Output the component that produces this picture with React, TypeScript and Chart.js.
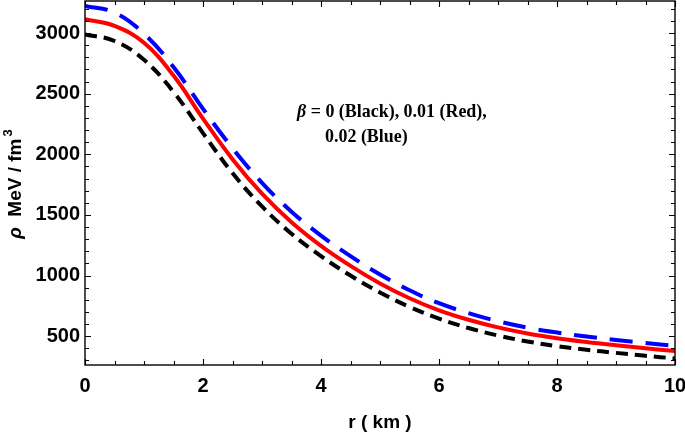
import React, { useEffect, useRef } from "react";
import { Chart, registerables } from "chart.js";

Chart.register(...registerables);

// radial coordinate r (km)
const radius = [0, 0.5, 1, 1.5, 2, 2.5, 3, 3.5, 4, 4.5, 5, 5.5, 6, 6.5, 7, 7.5, 8, 8.5, 9, 9.5, 10];
// density rho (MeV/fm^3) for beta = 0 (black)
const rhoBeta0 = [2990, 2935, 2780, 2515, 2175, 1845, 1570, 1345, 1160, 1000, 860, 742, 645, 567, 505, 456, 418, 388, 362, 338, 316];
// beta = 0.01 (red)
const rhoBeta001 = [3115, 3060, 2920, 2650, 2295, 1960, 1675, 1440, 1245, 1080, 935, 813, 713, 635, 572, 522, 483, 452, 425, 400, 377];
// beta = 0.02 (blue)
const rhoBeta002 = [3225, 3170, 2995, 2720, 2375, 2050, 1765, 1527, 1330, 1160, 1008, 879, 772, 690, 623, 570, 530, 497, 468, 443, 420];

const xTickValues = [0, 2, 4, 6, 8, 10];
const yTickValues = [500, 1000, 1500, 2000, 2500, 3000];
const xMinorStep = 0.5;
const yMinorStep = 100;

const xTitle = "r ( km )";
const yTitleSymbol = "ρ";
const yTitleUnit = "  MeV / fm";
const yTitleExp = "3";
const noteLine1Symbol = "β";
const noteLine1Rest = " = 0 (Black), 0.01 (Red),";
const noteLine2 = "0.02 (Blue)";

const X_MIN = 0;
const X_MAX = 10;
const Y_MIN = 262;
const Y_MAX = 3265;

const toPoints = (ys: number[]) => radius.map((r, i) => ({ x: r, y: ys[i] }));

const zeroPadding = (scale: any) => {
  scale.paddingTop = 0;
  scale.paddingBottom = 0;
  scale.paddingLeft = 0;
  scale.paddingRight = 0;
};

const framePlugin = {
  id: "frameTicks",
  afterDatasetsDraw(chart: any) {
    const ctx = chart.ctx;
    const xs = chart.scales.x;
    const ys = chart.scales.y;
    const { left, right, top, bottom } = chart.chartArea;
    ctx.save();
    ctx.strokeStyle = "#000";
    ctx.lineWidth = 1.4;
    ctx.strokeRect(left, top, right - left, bottom - top);
    ctx.lineWidth = 1.1;
    ctx.beginPath();
    for (let v = X_MIN; v <= X_MAX + 1e-9; v += xMinorStep) {
      const major = xTickValues.some((t) => Math.abs(t - v) < 1e-9);
      const len = major ? 6 : 4;
      const px = Math.round(xs.getPixelForValue(v)) + 0.5;
      ctx.moveTo(px, bottom);
      ctx.lineTo(px, bottom - len);
      ctx.moveTo(px, top);
      ctx.lineTo(px, top + len);
    }
    const startY = Math.ceil(Y_MIN / yMinorStep) * yMinorStep;
    for (let v = startY; v <= Y_MAX; v += yMinorStep) {
      const major = yTickValues.includes(v);
      const len = major ? 6 : 4;
      const py = Math.round(ys.getPixelForValue(v)) + 0.5;
      ctx.moveTo(left, py);
      ctx.lineTo(left + len, py);
      ctx.moveTo(right, py);
      ctx.lineTo(right - len, py);
    }
    ctx.stroke();
    ctx.restore();
  },
  afterDraw(chart: any) {
    const ctx = chart.ctx;
    const { left, right } = chart.chartArea;
    ctx.save();
    ctx.fillStyle = "#000";
    // x title
    ctx.font = "bold 19px 'Liberation Sans', Arial, sans-serif";
    ctx.textAlign = "center";
    ctx.textBaseline = "middle";
    ctx.fillText(xTitle, (left + right) / 2, 423);

    // y title (rotated)
    ctx.save();
    ctx.translate(14, 184);
    ctx.rotate(-Math.PI / 2);
    const fSym = "italic bold 19px 'Liberation Sans', Arial, sans-serif";
    const fUnit = "bold 19px 'Liberation Sans', Arial, sans-serif";
    const fExp = "bold 13px 'Liberation Sans', Arial, sans-serif";
    ctx.font = fSym;
    const wSym = ctx.measureText(yTitleSymbol).width;
    ctx.font = fUnit;
    const wUnit = ctx.measureText(yTitleUnit).width;
    ctx.font = fExp;
    const wExp = ctx.measureText(yTitleExp).width;
    let cx = -(wSym + wUnit + wExp + 2) / 2;
    ctx.textAlign = "left";
    ctx.textBaseline = "alphabetic";
    ctx.font = fSym;
    ctx.fillText(yTitleSymbol, cx, 7);
    cx += wSym;
    ctx.font = fUnit;
    ctx.fillText(yTitleUnit, cx, 7);
    cx += wUnit + 2;
    ctx.font = fExp;
    ctx.fillText(yTitleExp, cx, -2);
    ctx.restore();

    // annotation
    const serif = "'Liberation Serif', 'DejaVu Serif', serif";
    const size = 16;
    ctx.textAlign = "left";
    ctx.textBaseline = "alphabetic";
    ctx.font = `italic bold ${size}px ${serif}`;
    const wb = ctx.measureText(noteLine1Symbol).width;
    ctx.font = `bold ${size}px ${serif}`;
    const wr = ctx.measureText(noteLine1Rest).width;
    const target = 190;
    const scale = target / (wb + wr);
    const s = size * scale;
    ctx.font = `italic bold ${s}px ${serif}`;
    ctx.fillText(noteLine1Symbol, 297, 117);
    const wb2 = ctx.measureText(noteLine1Symbol).width;
    ctx.font = `bold ${s}px ${serif}`;
    ctx.fillText(noteLine1Rest, 297 + wb2, 117);
    ctx.fillText(noteLine2, 325, 142);
    ctx.restore();
  },
};

export default function App() {
  const canvasRef = useRef<HTMLCanvasElement | null>(null);

  useEffect(() => {
    document.body.style.margin = "0";
    const canvas = canvasRef.current;
    if (!canvas) return;
    const tickFont = { family: "'Liberation Sans', Arial, sans-serif", size: 20, weight: "bold" as const };
    const lineCommon = { borderWidth: 4, pointRadius: 0, fill: false, tension: 0.4 };
    const chart = new Chart(canvas, {
      type: "line",
      data: {
        datasets: [
          {
            label: "beta = 0.01",
            data: toPoints(rhoBeta001),
            borderColor: "#ff0000",
            ...lineCommon,
          },
          {
            label: "beta = 0",
            data: toPoints(rhoBeta0),
            borderColor: "#000000",
            borderDash: [12, 7],
            ...lineCommon,
          },
          {
            label: "beta = 0.02",
            data: toPoints(rhoBeta002),
            borderColor: "#0000ff",
            borderDash: [23, 13],
            ...lineCommon,
          },
        ],
      },
      options: {
        responsive: false,
        animation: false,
        events: [],
        layout: { padding: { left: 0, top: 1, right: 10, bottom: 0 }, autoPadding: false },
        plugins: { legend: { display: false }, tooltip: { enabled: false }, title: { display: false } },
        scales: {
          x: {
            type: "linear",
            min: X_MIN,
            max: X_MAX,
            grid: { display: false, drawTicks: false },
            border: { display: false },
            afterBuildTicks: (scale: any) => {
              scale.ticks = xTickValues.map((v) => ({ value: v }));
            },
            afterFit: (scale: any) => {
              scale.height = 69;
              zeroPadding(scale);
            },
            ticks: {
              color: "#000",
              font: tickFont,
              padding: 9,
              maxRotation: 0,
              autoSkip: false,
              callback: (v: any) => String(v),
            },
          },
          y: {
            type: "linear",
            min: Y_MIN,
            max: Y_MAX,
            grid: { display: false, drawTicks: false },
            border: { display: false },
            afterBuildTicks: (scale: any) => {
              scale.ticks = yTickValues.map((v) => ({ value: v }));
            },
            afterFit: (scale: any) => {
              scale.width = 85;
              zeroPadding(scale);
            },
            ticks: {
              color: "#000",
              font: tickFont,
              padding: 5,
              autoSkip: false,
              callback: (v: any) => String(v),
            },
          },
        },
      },
      plugins: [framePlugin],
    });
    return () => chart.destroy();
  }, []);

  return <canvas ref={canvasRef} width={685} height={434} style={{ display: "block" }} />;
}
